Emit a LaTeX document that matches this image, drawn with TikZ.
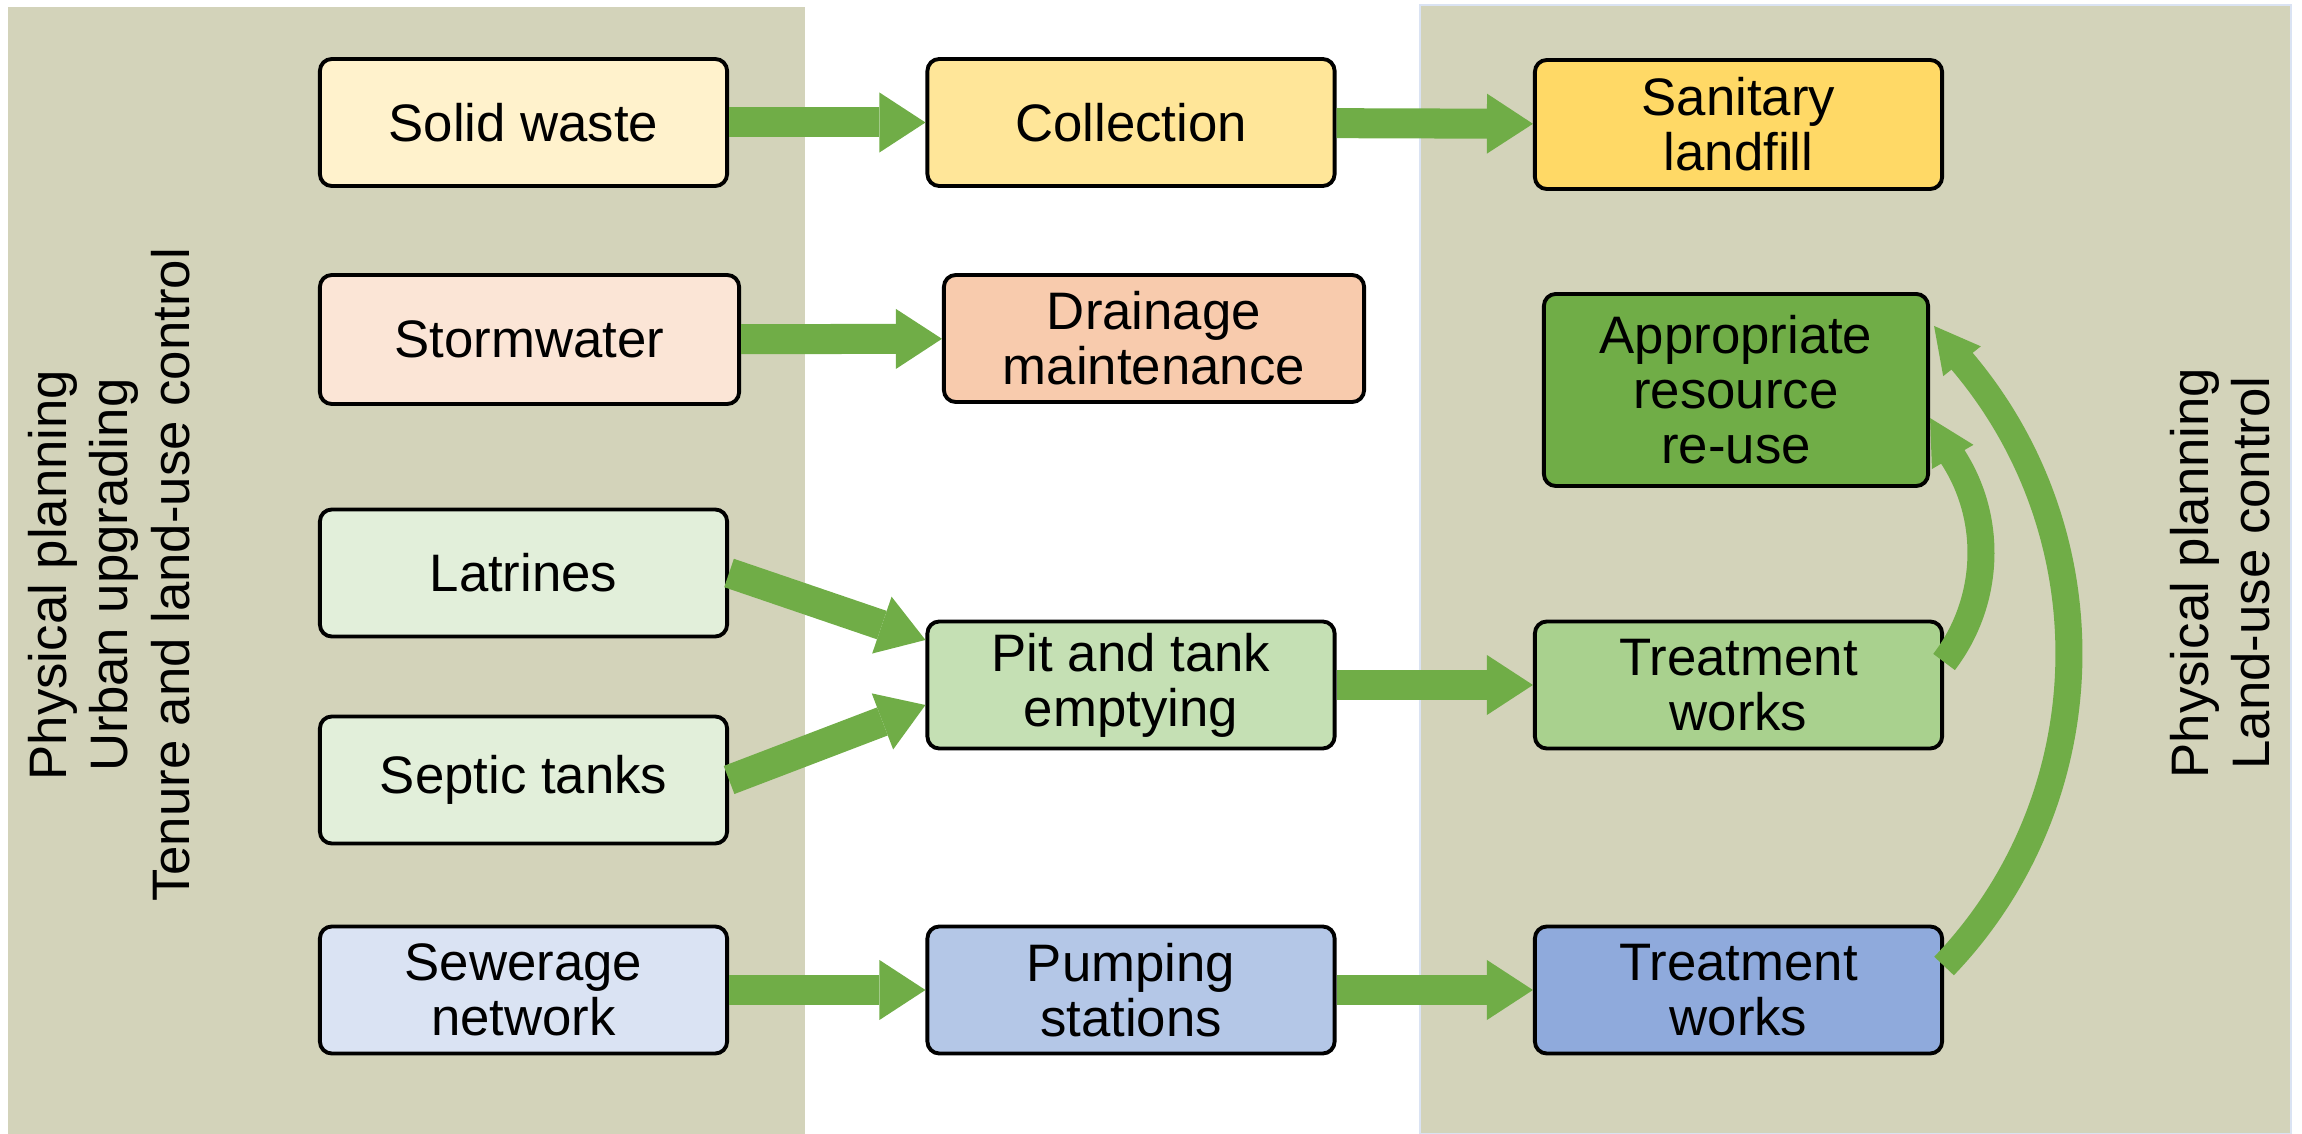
\documentclass[tikz,border=0pt]{standalone}
\usepackage{fontspec}
\setmainfont{Liberation Sans}
\usetikzlibrary{arrows.meta}
\definecolor{panelgray}{HTML}{D3D3BA}
\definecolor{panelline}{HTML}{DAE3F3}
\definecolor{arrowgreen}{HTML}{70AD47}
\definecolor{solidfill}{HTML}{FFF2CC}
\definecolor{collectfill}{HTML}{FFE699}
\definecolor{landfillfill}{HTML}{FFD966}
\definecolor{stormfill}{HTML}{FBE5D6}
\definecolor{drainfill}{HTML}{F8CBAD}
\definecolor{reusefill}{HTML}{70AD47}
\definecolor{pitfill}{HTML}{E2EFDA}
\definecolor{emptyfill}{HTML}{C5E0B4}
\definecolor{treatAfill}{HTML}{A9D18E}
\definecolor{sewerfill}{HTML}{DAE3F3}
\definecolor{pumpfill}{HTML}{B4C7E7}
\definecolor{treatBfill}{HTML}{8FAADC}
\begin{document}
\begin{tikzpicture}[x=0.01cm,y=-0.01cm,
    wastebox/.style={draw=black,line width=1.1pt,rounded corners=0.12cm,align=center,
      inner sep=0pt,minimum width=4.07cm,minimum height=1.27cm,
      font=\fontsize{15}{15.6}\selectfont},
    flowarrow/.style={draw=arrowgreen,line width=0.3cm,
      -{Triangle[length=0.46cm,width=0.6cm,line width=0pt]}},
    backflow/.style={draw=arrowgreen,line width=0.27cm,
      -{Triangle[length=0.45cm,width=0.48cm,line width=0pt]}},
    sidelabel/.style={rotate=90,align=center,inner sep=0pt,
      font=\fontsize{15}{17.4}\selectfont}]
  \useasboundingbox (0,0) rectangle (2302,1134);
  % panels
  \fill[panelgray] (8,7) rectangle (805,1134);
  \fill[panelgray,draw=panelline,line width=0.6pt] (1420,5) rectangle (2291,1134);
  \node[sidelabel] (leftlab) at (109,575) {Physical planning\\Urban upgrading\\Tenure and land-use control};
  \node[sidelabel] (rightlab) at (2220,573) {Physical planning\\Land-use control};
  % boxes
  \node[wastebox,fill=solidfill] (solid) at (523.5,122.5) {Solid waste};
  \node[wastebox,fill=collectfill] (collect) at (1131,122.5) {Collection};
  \node[wastebox,fill=landfillfill,minimum height=1.29cm] (landfill) at (1738.5,124.5) {Sanitary\\landfill};
  \node[wastebox,fill=stormfill,minimum width=4.19cm,minimum height=1.29cm] (storm) at (529.5,339.5) {Stormwater};
  \node[wastebox,fill=drainfill,minimum width=4.2cm] (drain) at (1154,338.5) {Drainage\\maintenance};
  \node[wastebox,fill=reusefill,minimum width=3.84cm,minimum height=1.92cm] (reuse) at (1736,390) {Appropriate\\resource\\re-use};
  \node[wastebox,fill=pitfill] (latr) at (523.5,573) {Latrines};
  \node[wastebox,fill=pitfill] (septic) at (523.5,780) {Septic tanks};
  \node[wastebox,fill=emptyfill] (pit) at (1131,685) {Pit and tank\\emptying};
  \node[wastebox,fill=treatAfill] (treatA) at (1738.5,685) {Treatment\\works};
  \node[wastebox,fill=sewerfill] (sewer) at (523.5,990) {Sewerage\\network};
  \node[wastebox,fill=pumpfill] (pump) at (1131,990) {Pumping\\stations};
  \node[wastebox,fill=treatBfill] (treatB) at (1738.5,990) {Treatment\\works};
  % flows
  \draw[flowarrow] (solid) -- (collect);
  \draw[flowarrow] (collect) -- (landfill);
  \draw[flowarrow] (storm) -- (drain);
  \draw[flowarrow] (latr.east) -- ([yshift=0.45cm]pit.west);
  \draw[flowarrow] (septic.east) -- ([yshift=-0.2cm]pit.west);
  \draw[flowarrow] (pit) -- (treatA);
  \draw[flowarrow] (sewer) -- (pump);
  \draw[flowarrow] (pump) -- (treatB);
  % re-use loops
  \draw[backflow] ([yshift=0.23cm]treatA.east) .. controls (1989.5,602.6) and (1994.1,519.1) .. (1951.7,455.2)
    -- ([yshift=-0.28cm]reuse.east);
  \draw[backflow] ([yshift=0.24cm]treatB.east) .. controls (2103.3,800) and (2111.7,536.5) .. (1961,360)
    -- ([xshift=0.04cm,yshift=0.64cm]reuse.east);
\end{tikzpicture}
\end{document}
